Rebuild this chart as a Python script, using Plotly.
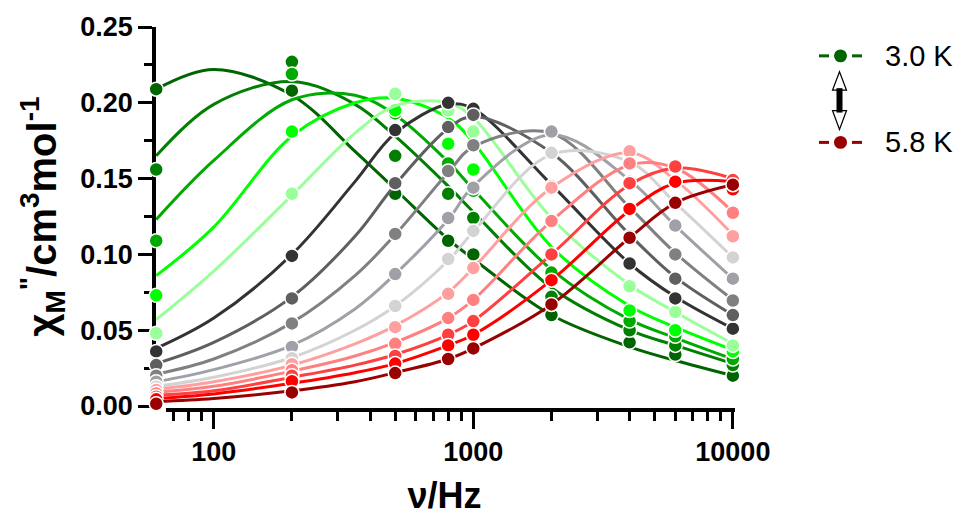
import math
import plotly.graph_objects as go

# ---------------- data ----------------
freqs = [60, 200, 500, 800, 1000, 2000, 4000, 6000, 10000]
fit_freqs = [60, 100, 200, 350, 500, 800, 1000, 2000, 4000, 6000, 10000]

temps = ["3.0 K", "3.2 K", "3.4 K", "3.6 K", "3.8 K", "4.0 K", "4.2 K", "4.4 K",
         "4.6 K", "4.8 K", "5.0 K", "5.2 K", "5.4 K", "5.6 K", "5.8 K"]

colors = ["#006400", "#007f00", "#00aa00", "#00ff00", "#99ff99",
          "#333333", "#5f5f5f", "#808080", "#a0a0a8", "#d3d3d3",
          "#ffa0a0", "#ff8080", "#ff4040", "#ff0000", "#990000"]

pts_3_0 = [0.209, 0.208, 0.140, 0.109, 0.100, 0.060, 0.042, 0.034, 0.020]
pts_3_2 = [0.156, 0.227, 0.165, 0.140, 0.124, 0.072, 0.050, 0.040, 0.027]
pts_3_4 = [0.109, 0.219, 0.193, 0.160, 0.142, 0.088, 0.056, 0.046, 0.031]
pts_3_6 = [0.073, 0.181, 0.195, 0.173, 0.156, 0.100, 0.063, 0.050, 0.036]
pts_3_8 = [0.048, 0.140, 0.206, 0.195, 0.181, 0.122, 0.079, 0.062, 0.040]
pts_4_0 = [0.036, 0.099, 0.182, 0.200, 0.196, 0.145, 0.094, 0.071, 0.051]
pts_4_2 = [0.027, 0.071, 0.147, 0.184, 0.192, 0.167, 0.112, 0.084, 0.060]
pts_4_4 = [0.020, 0.0545, 0.1135, 0.155, 0.172, 0.181, 0.130, 0.100, 0.0696]
pts_4_6 = [0.016, 0.039, 0.087, 0.124, 0.144, 0.181, 0.148, 0.119, 0.084]
pts_4_8 = [0.0127, 0.0315, 0.066, 0.097, 0.1155, 0.167, 0.161, 0.134, 0.098]
pts_5_0 = [0.0105, 0.0276, 0.052, 0.074, 0.091, 0.144, 0.168, 0.148, 0.112]
pts_5_2 = [0.0083, 0.0236, 0.041, 0.058, 0.070, 0.122, 0.160, 0.157, 0.1275]
pts_5_4 = [0.0061, 0.020, 0.033, 0.047, 0.056, 0.100, 0.147, 0.158, 0.149]
pts_5_6 = [0.0044, 0.0164, 0.028, 0.040, 0.047, 0.083, 0.130, 0.148, 0.143]
pts_5_8 = [0.0015, 0.009, 0.0217, 0.031, 0.038, 0.067, 0.111, 0.134, 0.146]

fit_3_0 = [0.209, 0.222, 0.205, 0.168, 0.143, 0.110, 0.097, 0.060, 0.039, 0.030, 0.020]
fit_3_2 = [0.165, 0.199, 0.214, 0.199, 0.178, 0.145, 0.128, 0.078, 0.050, 0.040, 0.028]
fit_3_4 = [0.123, 0.162, 0.202, 0.205, 0.192, 0.161, 0.143, 0.090, 0.057, 0.045, 0.031]
fit_3_6 = [0.086, 0.118, 0.178, 0.200, 0.203, 0.190, 0.174, 0.105, 0.066, 0.052, 0.037]
fit_3_8 = [0.057, 0.089, 0.139, 0.180, 0.198, 0.200, 0.190, 0.124, 0.080, 0.062, 0.041]
fit_4_0 = [0.038, 0.058, 0.100, 0.148, 0.180, 0.199, 0.196, 0.146, 0.094, 0.072, 0.051]
fit_4_2 = [0.028, 0.042, 0.072, 0.112, 0.146, 0.183, 0.191, 0.167, 0.113, 0.085, 0.060]
fit_4_4 = [0.021, 0.031, 0.055, 0.086, 0.113, 0.154, 0.171, 0.180, 0.131, 0.101, 0.070]
fit_4_6 = [0.016, 0.024, 0.040, 0.064, 0.087, 0.123, 0.145, 0.179, 0.149, 0.119, 0.084]
fit_4_8 = [0.013, 0.019, 0.032, 0.050, 0.066, 0.096, 0.115, 0.166, 0.161, 0.134, 0.098]
fit_5_0 = [0.011, 0.016, 0.027, 0.041, 0.053, 0.075, 0.091, 0.144, 0.167, 0.149, 0.113]
fit_5_2 = [0.009, 0.013, 0.023, 0.033, 0.042, 0.058, 0.070, 0.122, 0.159, 0.157, 0.128]
fit_5_4 = [0.007, 0.010, 0.019, 0.027, 0.034, 0.047, 0.056, 0.100, 0.146, 0.157, 0.150]
fit_5_6 = [0.005, 0.008, 0.015, 0.022, 0.028, 0.040, 0.047, 0.083, 0.129, 0.147, 0.148]
fit_5_8 = [0.003, 0.005, 0.010, 0.016, 0.022, 0.031, 0.038, 0.067, 0.111, 0.134, 0.146]

points = [pts_3_0, pts_3_2, pts_3_4, pts_3_6, pts_3_8, pts_4_0, pts_4_2, pts_4_4,
          pts_4_6, pts_4_8, pts_5_0, pts_5_2, pts_5_4, pts_5_6, pts_5_8]
fits = [fit_3_0, fit_3_2, fit_3_4, fit_3_6, fit_3_8, fit_4_0, fit_4_2, fit_4_4,
        fit_4_6, fit_4_8, fit_5_0, fit_5_2, fit_5_4, fit_5_6, fit_5_8]

y_ticks = [0.00, 0.05, 0.10, 0.15, 0.20, 0.25]
y_minor = [0.025, 0.075, 0.125, 0.175, 0.225]
x_ticks = [100, 1000, 10000]
x_minor = [70, 80, 90, 200, 300, 400, 500, 600, 700, 800, 900,
           2000, 3000, 4000, 5000, 6000, 7000, 8000, 9000]

legend_labels = ["3.0 K", "5.8 K"]
legend_colors = ["#006400", "#990000"]

# ---------------- layout geometry ----------------
W, H = 962, 523
L, R, T, B = 156, 229, 25, 113
PW, PH = W - L - R, H - T - B
FONT = "Liberation Sans, Arial, sans-serif"


def px_x(px):
    return (px - L) / PW


def px_y(py):
    return (T + PH - py) / PH


fig = go.Figure()

for name, col, fy, py in zip(temps, colors, fits, points):
    fig.add_trace(go.Scatter(
        x=fit_freqs, y=fy, mode="lines", line=dict(color=col, width=3, shape="spline"),
        showlegend=False, hoverinfo="skip"))
    fig.add_trace(go.Scatter(
        x=freqs, y=py, mode="markers", name=name, cliponaxis=False,
        marker=dict(color=col, size=14, line=dict(color="white", width=1.5)),
        showlegend=False))

shapes = []
# offset x axis line (Prism style)
shapes.append(dict(type="line", xref="paper", yref="paper", layer="below",
                   x0=px_x(166), x1=px_x(735), y0=0, y1=0,
                   line=dict(color="black", width=4)))

# custom legend
for lab, col, cy in zip(legend_labels, legend_colors, [54, 141]):
    shapes.append(dict(type="line", xref="paper", yref="paper",
                       x0=px_x(819), x1=px_x(829), y0=px_y(cy), y1=px_y(cy),
                       line=dict(color=col, width=3)))
    shapes.append(dict(type="line", xref="paper", yref="paper",
                       x0=px_x(852), x1=px_x(862), y0=px_y(cy), y1=px_y(cy),
                       line=dict(color=col, width=3)))
    shapes.append(dict(type="circle", xref="paper", yref="paper",
                       x0=px_x(834), x1=px_x(847), y0=px_y(cy + 6.5), y1=px_y(cy - 6.5),
                       fillcolor=col, line=dict(width=0)))


def path(pts):
    s = "M " + " L ".join(f"{px_x(a):.5f},{px_y(b):.5f}" for a, b in pts) + " Z"
    return s


shapes.append(dict(type="path", xref="paper", yref="paper",
                   path=path([(832.5, 88.5), (839.5, 70), (846.5, 88.5)]),
                   fillcolor="white", line=dict(color="black", width=1.2)))
shapes.append(dict(type="path", xref="paper", yref="paper",
                   path=path([(832.5, 109), (846.5, 109), (839.5, 128)]),
                   fillcolor="white", line=dict(color="black", width=1.2)))
shapes.append(dict(type="rect", xref="paper", yref="paper",
                   x0=px_x(836.5), x1=px_x(842.5), y0=px_y(111), y1=px_y(86.5),
                   fillcolor="black", line=dict(width=0)))

annotations = []
for lab, cy in zip(legend_labels, [54, 141]):
    annotations.append(dict(text=lab, xref="paper", yref="paper", x=px_x(883), y=px_y(cy),
                            xanchor="left", yanchor="middle", showarrow=False,
                            font=dict(family=FONT, size=29, color="black")))

fig.update_layout(
    width=W, height=H,
    margin=dict(l=L, r=R, t=T, b=B),
    paper_bgcolor="white", plot_bgcolor="white",
    shapes=shapes, annotations=annotations,
    showlegend=False,
    xaxis=dict(
        type="log", range=[math.log10(60) - 0.0008, 4.0005],
        anchor="free", position=0, layer="below traces",
        showline=False, showgrid=False, zeroline=False,
        ticks="outside", ticklen=18, tickwidth=3, tickcolor="black",
        tickvals=x_ticks, ticktext=[str(v) for v in x_ticks],
        tickfont=dict(family=FONT, size=27, color="black", weight="bold"),
        minor=dict(ticks="outside", ticklen=10, tickwidth=3, tickcolor="black",
                   tickvals=x_minor, showgrid=False),
        title=dict(text="ν/Hz", standoff=16,
                   font=dict(family=FONT, size=36, color="black", weight="bold")),
    ),
    yaxis=dict(
        range=[0, 0.25], domain=[4 / PH, 1], layer="below traces",
        showline=True, linewidth=3.5, linecolor="black",
        showgrid=False, zeroline=False,
        ticks="outside", ticklen=14, tickwidth=3, tickcolor="black",
        tickvals=y_ticks, ticktext=[f"{v:.2f}" for v in y_ticks],
        tickfont=dict(family=FONT, size=27, color="black", weight="bold"),
        minor=dict(ticks="outside", ticklen=8, tickwidth=3, tickcolor="black",
                   tickvals=y_minor, showgrid=False),
        title=dict(text='χ<sub>M</sub><sup>"</sup>/cm<sup>3</sup>mol<sup>-1</sup>', standoff=12,
                   font=dict(family=FONT, size=40, color="black", weight="bold")),
    ),
)

fig.write_html("out.html", config={"displayModeBar": False},
               post_script="document.body.style.margin='0';")
